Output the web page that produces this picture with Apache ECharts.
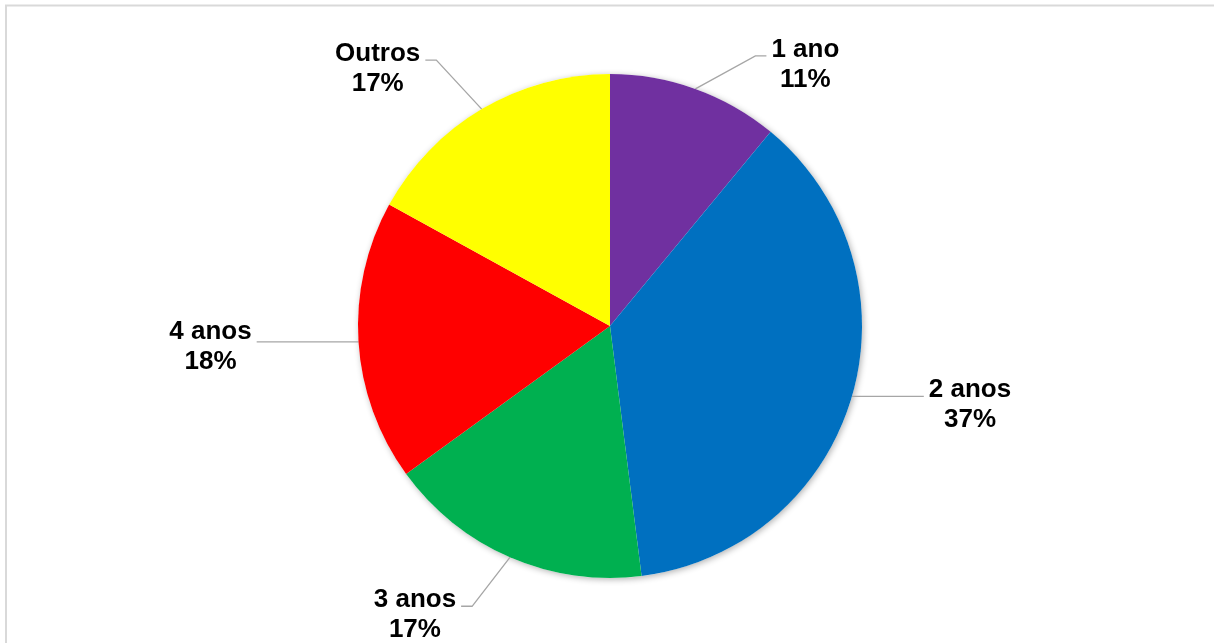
<!DOCTYPE html>
<html>
<head>
<meta charset="utf-8">
<script src="https://cdn.jsdelivr.net/npm/echarts@6/dist/echarts.min.js"></script>
<style>
  html, body { margin: 0; padding: 0; background: #fff; }
  #chart { width: 1214px; height: 643px; }
</style>
</head>
<body>
<div id="chart"></div>
<script>
// Share of respondents by duration
const categories = ['1 ano', '2 anos', '3 anos', '4 anos', 'Outros'];
const shares = [11, 37, 17, 18, 17];
const sliceColors = ['#7030A0', '#0070C0', '#00B050', '#FF0000', '#FFFF00'];

// Where each label block sits relative to its slice's edge anchor
const labelOffsets = [[110, -24], [118, 9], [-95, 58], [-148, 5], [-104, -40]];

const total = shares.reduce((s, v) => s + v, 0);
const chart = echarts.init(document.getElementById('chart'), null, { renderer: 'canvas' });

const center = [610, 326];
const radius = 252;

chart.setOption({
  backgroundColor: '#ffffff',
  animation: false,
  graphic: [{
    type: 'rect',
    shape: { x: 6, y: 5.5, width: 1400, height: 800 },
    style: { fill: 'none', stroke: '#d9d9d9', lineWidth: 2 },
    silent: true,
    z: -10
  }],
  series: [
    {
      // soft drop shadow under the whole disc
      type: 'pie',
      center: center,
      radius: radius,
      silent: true,
      z: 1,
      label: { show: false },
      labelLine: { show: false },
      itemStyle: {
        color: '#ffffff',
        shadowBlur: 6,
        shadowOffsetX: 1.5,
        shadowOffsetY: 1.5,
        shadowColor: 'rgba(0,0,0,0.3)'
      },
      data: [{ value: total, name: '' }]
    },
    {
      type: 'pie',
      center: center,
      radius: radius,
      startAngle: 90,
      clockwise: true,
      z: 2,
      avoidLabelOverlap: false,
      data: categories.map((c, i) => ({
        name: c,
        value: shares[i],
        itemStyle: { color: sliceColors[i] }
      })),
      itemStyle: { borderWidth: 0 },
      label: {
        show: true,
        position: 'outside',
        formatter: p => p.name + '\n' + p.value + '%',
        fontFamily: 'Liberation Sans, Arial, sans-serif',
        fontWeight: 'bold',
        fontSize: 26,
        lineHeight: 30,
        color: '#000000',
        align: 'center'
      },
      labelLine: {
        show: true,
        length: 20,
        length2: 20,
        lineStyle: { color: '#a6a6a6', width: 1.3 }
      },
      labelLayout: function (p) {
        const a = p.labelLinePoints[0];
        const o = labelOffsets[p.dataIndex];
        const cx = a[0] + o[0];
        const cy = a[1] + o[1];
        const w = p.labelRect.width;
        const side = o[0] > 0 ? -1 : 1;
        const endX = cx + side * (w / 2 + 5);
        let lineY = cy - 9;
        let elbow;
        if (Math.abs(a[1] - lineY) < 8) {
          lineY = a[1];
          elbow = [(a[0] + endX) / 2, lineY];
        } else {
          elbow = [endX + side * 11, lineY];
        }
        return {
          x: cx,
          y: cy,
          align: 'center',
          verticalAlign: 'middle',
          labelLinePoints: [a, elbow, [endX, lineY]]
        };
      }
    }
  ]
});
</script>
</body>
</html>
